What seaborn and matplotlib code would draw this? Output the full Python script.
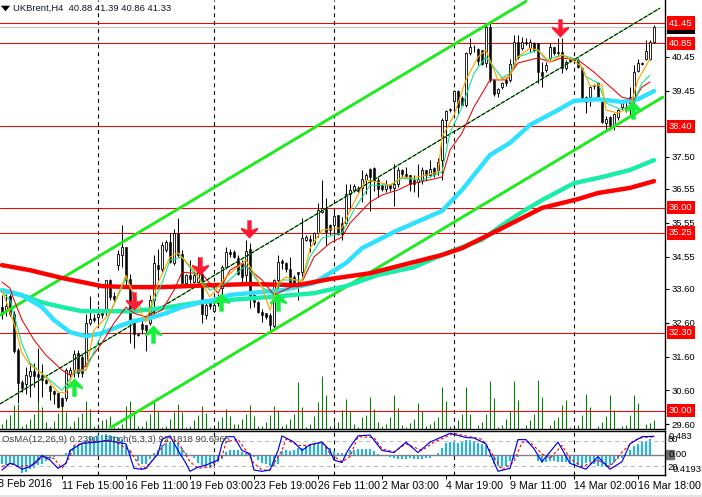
import numpy as np
import pandas as pd
import matplotlib
matplotlib.use("Agg")
import matplotlib.pyplot as plt
from matplotlib.path import Path
from matplotlib.patches import Rectangle
import seaborn as sns

# candles, one row per 10 bars
opens = [33.07, 32.95, 33.4, 32.85, 31.78, 30.85, 30.8, 31.03, 31.17, 31.08,
         31.05, 30.9, 30.72, 30.58, 30.53, 30.39, 30.39, 31.08, 31.2, 31.71,
         31.59, 31.33, 32.58, 32.74, 32.77, 32.89, 32.97, 33.86, 33.4, 34.3,
         34.6, 34.84, 33.9, 32.58, 32.28, 32.55, 32.53, 32.58, 33.27, 34.3,
         34.2, 34.74, 34.99, 34.35, 35.24, 34.64, 33.78, 34.0, 33.8, 33.8,
         34.05, 32.82, 33.2, 32.95, 33.17, 33.61, 34.25, 34.69, 34.69, 34.5,
         34.35, 34.0, 34.77, 33.41, 33.2, 32.92, 32.89, 32.84, 32.5, 33.85,
         34.43, 34.35, 34.2, 33.95, 34.1, 34.1, 35.05, 35.06, 34.94, 35.25,
         35.87, 35.97, 35.48, 35.48, 35.78, 35.55, 35.53, 36.41, 36.53, 36.59,
         36.59, 36.8, 37.15, 37.18, 36.8, 36.66, 36.56, 36.66, 36.59, 36.69,
         37.12, 37.0, 36.95, 36.8, 36.75, 36.8, 37.12, 36.95, 37.18, 37.1,
         37.4, 38.6, 38.9, 39.16, 39.45, 39.25, 39.03, 40.57, 40.75, 40.68,
         40.65, 40.26, 41.32, 39.77, 39.37, 39.55, 39.77, 39.77, 40.24, 40.9,
         40.7, 40.9, 40.7, 40.85, 40.85, 40.0, 40.06, 40.41, 40.75, 40.6,
         40.6, 40.11, 40.38, 40.38, 40.36, 40.11, 39.27, 39.27, 39.63, 39.67,
         39.13, 38.51, 38.68, 38.44, 38.68, 38.98, 38.96, 39.27, 39.18, 40.04,
         40.26, 40.38, 40.38, 40.88]
highs = [33.41, 33.45, 33.45, 32.95, 31.85, 30.9, 31.3, 31.4, 31.42, 31.84,
         31.39, 30.95, 30.75, 30.6, 30.53, 30.4, 31.25, 31.3, 31.79, 31.8,
         31.7, 32.87, 33.38, 32.87, 33.1, 33.0, 33.86, 33.88, 33.5, 34.74,
         35.48, 34.84, 34.05, 32.58, 32.3, 32.77, 32.53, 33.41, 34.6, 34.79,
         34.99, 35.04, 35.24, 35.38, 35.68, 34.74, 34.03, 34.45, 34.15, 34.55,
         34.1, 33.17, 33.3, 33.36, 33.45, 34.3, 34.84, 34.79, 34.74, 34.6,
         34.45, 35.04, 34.94, 33.45, 33.25, 33.0, 32.9, 32.9, 33.9, 34.6,
         34.47, 34.4, 34.55, 34.0, 34.1, 35.68, 35.2, 35.2, 35.28, 36.12,
         36.81, 36.27, 35.5, 35.97, 35.78, 35.72, 36.69, 36.69, 36.69, 36.65,
         37.12, 37.02, 37.18, 37.2, 36.9, 36.7, 36.8, 36.7, 37.3, 37.2,
         37.15, 37.2, 36.95, 36.95, 37.3, 37.2, 37.12, 37.4, 37.2, 37.45,
         38.64, 38.88, 38.95, 39.47, 39.47, 39.28, 40.6, 41.0, 40.8, 40.7,
         40.65, 41.44, 41.44, 39.8, 39.52, 39.72, 39.8, 40.4, 41.1, 41.1,
         41.05, 41.0, 40.97, 40.9, 40.85, 40.3, 40.3, 40.85, 40.75, 41.0,
         41.0, 40.35, 40.42, 40.42, 40.43, 40.16, 39.3, 39.6, 39.65, 39.7,
         39.15, 38.7, 38.7, 38.8, 38.9, 39.1, 39.13, 39.55, 40.21, 40.38,
         40.3, 40.95, 40.95, 41.39]
lows = [32.72, 32.8, 32.8, 31.7, 30.23, 30.55, 30.5, 30.4, 30.7, 30.3,
        30.4, 30.78, 30.31, 30.2, 30.08, 30.1, 30.3, 31.0, 31.0, 31.0,
        31.0, 31.3, 32.53, 32.62, 32.53, 32.75, 32.82, 33.26, 33.2, 34.15,
        34.25, 33.66, 32.0, 31.84, 32.2, 32.28, 31.77, 32.53, 32.87, 33.86,
        34.1, 34.69, 34.35, 34.3, 34.55, 33.76, 33.74, 33.76, 33.78, 33.76,
        32.6, 32.72, 33.0, 32.92, 33.1, 33.27, 34.2, 34.55, 34.5, 34.0,
        33.75, 33.75, 33.02, 33.07, 32.9, 32.62, 32.7, 32.38, 32.38, 33.56,
        34.2, 34.1, 33.66, 33.6, 33.26, 33.95, 35.0, 34.7, 34.9, 35.13,
        35.83, 34.89, 35.2, 35.08, 35.2, 35.04, 35.48, 35.92, 36.46, 36.45,
        36.16, 36.41, 35.9, 36.5, 36.3, 36.5, 36.46, 36.5, 36.04, 36.6,
        36.9, 36.9, 36.49, 36.46, 36.31, 36.7, 36.8, 36.9, 36.9, 36.95,
        36.8, 37.9, 38.82, 38.7, 38.75, 39.0, 38.98, 40.5, 40.6, 40.21,
        40.2, 40.16, 39.72, 39.3, 39.27, 39.5, 39.6, 39.7, 40.16, 40.4,
        40.65, 40.8, 40.6, 40.6, 39.67, 39.55, 40.0, 40.36, 40.5, 40.5,
        39.97, 40.05, 40.3, 40.3, 40.11, 39.2, 38.78, 39.0, 39.5, 39.2,
        38.5, 38.3, 38.3, 38.3, 38.6, 38.9, 38.83, 38.73, 39.1, 40.0,
        40.2, 40.35, 40.35, 40.86]
closes = [32.87, 33.1, 32.85, 31.75, 30.82, 30.68, 31.05, 31.17, 31.03, 31.0,
          30.9, 30.82, 30.58, 30.5, 30.11, 30.13, 31.2, 31.2, 31.67, 31.1,
          31.1, 32.58, 32.7, 32.67, 32.87, 32.82, 33.86, 33.36, 33.3, 34.64,
          34.84, 33.86, 32.58, 32.28, 32.23, 32.41, 32.38, 33.27, 34.35, 34.2,
          34.89, 34.99, 34.4, 35.24, 34.6, 33.78, 34.0, 33.9, 34.0, 34.25,
          32.87, 33.12, 33.1, 33.12, 33.36, 34.25, 34.69, 34.64, 34.55, 34.05,
          33.95, 34.72, 33.36, 33.2, 32.92, 32.82, 32.77, 32.53, 33.85, 34.4,
          34.37, 34.2, 33.76, 33.66, 34.05, 35.09, 35.12, 35.02, 35.25, 35.92,
          36.0, 35.28, 35.33, 35.75, 35.23, 35.23, 36.4, 36.53, 36.63, 36.49,
          36.85, 36.95, 36.9, 36.78, 36.56, 36.56, 36.69, 36.59, 36.69, 37.12,
          37.0, 36.92, 36.69, 36.69, 36.85, 37.12, 36.95, 37.15, 37.0, 37.35,
          38.58, 38.86, 38.88, 39.45, 38.98, 39.03, 40.57, 40.75, 40.73, 40.34,
          40.24, 41.32, 39.77, 39.35, 39.49, 39.69, 39.67, 40.24, 40.9, 40.45,
          40.9, 40.87, 40.9, 40.65, 40.01, 39.9, 40.21, 40.75, 40.55, 40.55,
          40.11, 40.3, 40.34, 40.36, 40.16, 39.22, 39.12, 39.55, 39.6, 39.27,
          38.54, 38.63, 38.44, 38.76, 38.88, 39.08, 38.94, 39.08, 40.01, 40.26,
          40.24, 40.63, 40.9, 41.33]

volumes = [15, 30, 42, 72, 75, 8, 15, 30, 45, 90, 65, 20, 5, 25, 48, 90, 50, 10, 25, 35,
           48, 85, 60, 8, 15, 28, 30, 40, 5, 5, 15, 70, 85, 50, 10, 8, 25, 45, 80, 55,
           5, 8, 30, 50, 75, 50, 5, 10, 28, 42, 68, 48, 5, 5, 25, 35, 60, 38, 15, 15,
           30, 45, 72, 38, 10, 10, 22, 42, 68, 57, 8, 15, 30, 45, 142, 65, 5, 15, 40, 82,
           160, 102, 10, 25, 20, 58, 90, 55, 15, 5, 35, 42, 97, 60, 20, 8, 15, 35, 102, 62,
           12, 5, 18, 30, 78, 55, 10, 15, 25, 35, 127, 85, 10, 8, 28, 45, 125, 45, 0, 12,
           20, 45, 145, 92, 6, 12, 30, 55, 145, 88, 3, 12, 28, 45, 148, 95, 0, 12, 27, 35,
           72, 87, 6, 3, 12, 42, 105, 66, 0, 8, 20, 38, 102, 57, 3, 8, 12, 42, 102, 78,
           0, 15, 18, 28]

osma = [-.20, -.21, -.19, -.19, -.23, -.37, -.35, -.30, -.28, -.21, -.19, -.13, -.10, -.05, -.03, -.02,
        .03, .10, .17, .20, .23, .30, .37, .37, .41, .41, .43, .40, .39, .35, .32, .20, .10,
        -.03, -.13, -.19, -.20, -.10, .03, .10, .19, .23, .25, .28, .23, .13, .03,
        -.03, -.08, -.17, -.21, -.23, -.27, -.20, -.15, -.10, .05, .10, .10, .09, .05, .03, .01,
        -.05, -.12, -.17, -.20, -.23, -.23, -.19, .07, .10, .08, .10, .13, .13, .17, .19, .21, .23, .23,
        .17, .13, .07, .03, .03, .01, .10, .10, .11, .11, .12, .11, .08, .02,
        -.01, -.03, -.05, -.08, -.09, -.09, -.09, -.08, -.09, -.09, -.09, -.08, -.07, -.03,
        .03, .13, .23, .25, .25, .23, .28, .30, .30, .27, .23, .21, .20,
        -.05, -.20, -.23, -.28, -.23, -.13, -.10, -.05, -.03, -.02, -.02, -.02,
        -.13, -.17, -.15, -.13, -.13, -.15, -.15, -.15, -.17, -.19, -.21, -.23, -.17, -.15,
        -.20, -.23, -.23, -.25, -.21, -.17, -.10, -.07, 0.0, .10, .17, .21, .25, .28, .32]

stoch_bars = [0, 2, 3, 5, 7, 9, 10, 12, 14, 16, 17, 20, 24, 26, 31, 33, 35, 36, 39, 40, 42, 44, 46, 47,
              49, 51, 54, 55, 56, 58, 60, 62, 63, 65, 67, 69, 70, 73, 75, 77, 80, 82, 83, 85, 86,
              87, 89, 92, 95, 98, 101, 104, 107, 112, 116, 118, 121, 124, 127, 129, 131, 133, 135,
              139, 142, 146, 149, 152, 155, 157, 160, 163]
stoch_main = [11, 27, 25, 13, 19, 36, 46, 35, 15, 27, 58, 75, 78, 82, 74, 15, 13, 15, 50, 85, 93, 58, 27, 8,
              18, 23, 35, 74, 91, 91, 58, 50, 11, 8, 11, 58, 93, 78, 58, 72, 78, 58, 35, 29, 50,
              66, 93, 95, 58, 53, 78, 53, 78, 99, 89, 88, 74, 8, 15, 84, 84, 62, 31,
              78, 27, 13, 43, 13, 31, 74, 91, 92]
signal_bars = [0, 2, 4, 8, 10, 13, 15, 17, 18, 22, 28, 32, 34, 35, 37, 40, 42, 44, 47, 49, 52, 55, 56, 59,
               61, 63, 65, 67, 70, 71, 74, 77, 80, 82, 85, 87, 89, 93, 95, 98, 101, 105, 108, 113,
               117, 120, 122, 125, 128, 130, 132, 135, 137, 140, 142, 145, 149, 152, 155, 158, 160, 163]
stoch_signal = [19, 27, 19, 23, 43, 39, 15, 43, 70, 80, 80, 58, 27, 11, 27, 66, 89, 78, 31, 15, 19, 43, 78, 85,
                58, 27, 11, 11, 58, 85, 70, 70, 78, 50, 31, 43, 91, 89, 62, 54, 74, 58, 78, 99,
                91, 85, 58, 11, 31, 78, 78, 50, 39, 70, 39, 19, 35, 19, 54, 82, 89, 90.7]

# moving averages, read at the bends only
fast_bars = [0, 3, 5, 7, 10, 14, 16, 18, 21, 23, 27, 31, 34, 36, 39, 42, 44, 48, 52, 56, 61, 65, 67, 69, 71, 75,
             77, 80, 85, 88, 91, 94, 97, 100, 103, 109, 110, 113, 116, 119, 121, 124, 127, 129, 132, 134,
             137, 140, 143, 145, 147, 150, 151, 154, 157, 159, 162]
fast_ma = [33.56, 32.59, 31.7, 31.35, 31.11, 30.55, 30.52, 31.2, 31.2, 32.38, 32.88, 34.0, 33.06, 32.62, 33.77,
           34.54, 34.66, 34.15, 33.36, 33.95, 34.45, 33.65, 32.97, 33.77, 33.95, 33.8,
           34.8, 35.34, 35.4, 36.16, 36.81, 36.75, 36.66, 36.9, 36.87, 37.05, 38.08, 38.73, 39.77, 40.45, 40.65,
           39.77, 39.88, 40.45, 40.71, 40.65, 40.3, 40.51, 40.33, 40.15, 39.59, 39.62, 38.88, 38.79, 38.97, 39.77,
           40.39]
mid_bars = [0, 2, 5, 7, 12, 15, 18, 21, 25, 27, 30, 31, 35, 37, 40, 42, 45, 48, 52, 56, 61, 65, 68, 70, 75, 77,
            80, 85, 88, 92, 97, 100, 105, 110, 112, 115, 118, 121, 125, 127, 129, 134, 136, 140, 144, 146,
            149, 151, 155, 158, 160, 162]
mid_ma = [33.5, 33.27, 31.97, 31.41, 30.9, 30.6, 31.11, 31.2, 32.29, 32.88, 33.65, 33.92, 32.97, 32.97, 33.77,
          34.45, 34.54, 34.07, 33.56, 33.77, 34.3, 33.65, 33.42, 33.86, 33.86, 34.54,
          35.1, 35.25, 35.93, 36.66, 36.66, 36.87, 36.81, 37.05, 38.2, 38.97, 39.97, 40.45, 39.83, 39.97, 40.45,
          40.65, 40.36, 40.51, 40.36, 39.86, 39.68, 39.09, 38.88, 39.12, 39.68, 39.91]
slow_bars = [0, 2, 3, 5, 8, 11, 15, 17, 20, 25, 28, 31, 33, 36, 40, 43, 45, 50, 54, 57, 60, 65, 68, 75, 78, 82,
             85, 87, 92, 95, 99, 102, 110, 112, 115, 118, 122, 126, 129, 134, 137, 140, 144, 148, 151, 155,
             158, 160, 162]
slow_ma = [33.8, 33.62, 33.27, 32.68, 32.09, 31.64, 31.2, 31.05, 31.2, 32.0, 32.59, 33.06, 32.88, 32.77, 32.97,
           33.56, 34.09, 34.04, 33.47, 34.15, 34.36, 33.86, 33.42, 33.8, 34.54, 34.95,
           35.13, 35.54, 36.16, 36.37, 36.52, 36.69, 36.9, 37.7, 38.2, 38.97, 39.77, 39.77, 40.27, 40.42, 40.3,
           40.42, 40.36, 40.0, 39.68, 39.26, 39.18, 39.56, 39.71]
cyan_bars = [0, 5, 10, 13, 17, 21, 25, 30, 33, 37, 41, 45, 50, 53, 57, 70, 78, 86, 90, 98, 110, 115, 122, 127,
             132, 139, 143, 149, 155, 159, 163]
cyan_ma = [33.56, 33.41, 33.06, 32.68, 32.32, 32.2, 32.29, 32.53, 32.65, 32.74, 32.88, 33.06, 33.21, 33.27, 33.42,
           33.56, 33.77, 34.36, 34.8, 35.28, 35.9, 36.52, 37.55, 37.91, 38.44, 38.88, 39.15, 39.2, 39.12, 39.2,
           39.44]
teal_bars = [0, 5, 10, 15, 20, 33, 40, 50, 60, 67, 78, 86, 94, 103, 110, 115, 120, 125, 130, 135, 143, 150, 157, 163]
teal_ma = [33.56, 33.41, 33.2, 33.06, 32.94, 32.94, 33.03, 33.21, 33.3, 33.36, 33.47, 33.68, 34.01, 34.24, 34.6,
           34.83, 35.05, 35.48, 35.87, 36.22, 36.72, 36.9, 37.11, 37.4]
red_bars = [0, 7, 15, 25, 32, 40, 53, 62, 74, 82, 92, 103, 110, 115, 125, 135, 144, 149, 157, 163]
red_ma = [34.3, 34.15, 33.92, 33.68, 33.65, 33.65, 33.71, 33.74, 33.71, 33.89, 34.06, 34.39, 34.6, 34.8, 35.39,
          35.99, 36.25, 36.43, 36.58, 36.78]

# trend channel, end points of each line
upper_bars = [-0.5, 131]
upper_prices = [32.82, 42.09]
lower_bars = [27, 165.2]
lower_prices = [29.49, 39.26]
middle_bars = [-0.5, 164.5]
middle_prices = [30.2, 41.89]

level_prices = [41.45, 40.85, 38.40, 36.00, 35.25, 32.30, 30.00]
last_price = 41.33
price_ticks = [40.45, 39.45, 37.50, 36.55, 35.55, 34.55, 33.60, 32.60, 31.60, 30.60, 29.60]

sell_bars = [33, 49.5, 61.75, 139.5]
sell_prices = [33.24, 34.27, 35.37, 41.3]
buy_bars = [18, 37.75, 54.75, 69, 157.75]
buy_prices = [30.7, 32.26, 33.21, 33.21, 38.88]

separator_bars = [24, 53, 83, 113, 143]
time_bars = [15, 31, 47, 63, 79, 95, 111, 127, 143, 159]
time_labels = ["11 Feb 15:00", "16 Feb 11:00", "19 Feb 03:00", "23 Feb 19:00", "26 Feb 11:00",
               "2 Mar 03:00", "4 Mar 19:00", "9 Mar 11:00", "14 Mar 02:00", "16 Mar 18:00"]

sns.set_style("white")
plt.rcParams["font.family"] = ["Liberation Sans", "DejaVu Sans"]
plt.rcParams["font.size"] = 7.7
small_font = 6.8

W, H = 702, 497
fig = plt.figure(figsize=(W / 100, H / 100), dpi=100, facecolor="white")
ax = fig.add_axes([0, 1 - 429 / H, 665 / W, 429 / H])
ax_sub = fig.add_axes([0, 1 - 475 / H, 665 / W, 44 / H])
x_range = (-0.5, 165.75)

candles = pd.DataFrame({"open": opens, "high": highs, "low": lows, "close": closes})
candles["bar"] = candles.index
up = candles[candles["close"] >= candles["open"]]
down = candles[candles["close"] < candles["open"]]

ax.set_xlim(x_range)
ax.set_ylim(29.46, 42.13)
ax.vlines(separator_bars, 29.46, 42.13, color="black", linewidth=0.8, linestyles=(0, (3.5, 3.5)), zorder=1)

# volume sits on its own hidden scale
ax_vol = ax.twinx()
ax_vol.set_ylim(0, 1287)
ax_vol.axis("off")
ax_vol.vlines(candles["bar"], 0, volumes, color="#008000", linewidth=0.75)
ax_vol.set_zorder(1)
ax.set_zorder(2)
ax.patch.set_visible(False)

for level in level_prices:
    ax.axhline(level, color="#ff0000", linewidth=0.75, zorder=2)
ax.axhline(last_price, color="#c0c0c0", linewidth=0.75, zorder=1.5)

ax.vlines(candles["bar"], candles["low"], candles["high"], color="black", linewidth=0.72, zorder=3)
ax.bar(down["bar"], down["open"] - down["close"], bottom=down["close"], width=0.6,
       color="black", edgecolor="black", linewidth=0.4, zorder=4)
ax.bar(up["bar"], up["close"] - up["open"], bottom=up["open"], width=0.6,
       color="white", edgecolor="black", linewidth=0.6, zorder=4)

sns.lineplot(x=upper_bars, y=upper_prices, color="#1eeb1e", linewidth=2.1, ax=ax, zorder=5)
sns.lineplot(x=lower_bars, y=lower_prices, color="#1eeb1e", linewidth=2.1, ax=ax, zorder=5)
sns.lineplot(x=middle_bars, y=middle_prices, color="#1eeb1e", linewidth=0.75, ax=ax, zorder=5)
ax.plot(middle_bars, middle_prices, color="black", linewidth=0.75, linestyle=(0, (4, 1.5)), zorder=5.1)

sns.lineplot(x=teal_bars, y=teal_ma, color="#19eda8", linewidth=3.2, ax=ax, zorder=6)
sns.lineplot(x=cyan_bars, y=cyan_ma, color="#30e0ff", linewidth=3.2, ax=ax, zorder=6.1)
sns.lineplot(x=red_bars, y=red_ma, color="#ff0000", linewidth=3.2, ax=ax, zorder=6.2)
sns.lineplot(x=slow_bars, y=slow_ma, color="#ee0000", linewidth=0.75, ax=ax, zorder=7)
sns.lineplot(x=mid_bars, y=mid_ma, color="#00e68a", linewidth=0.75, ax=ax, zorder=7.1)
sns.lineplot(x=fast_bars, y=fast_ma, color="#ffa500", linewidth=0.85, ax=ax, zorder=7.2)

# wingdings style arrows
down_arrow = Path([(-.12, .5), (.12, .5), (.12, -.02), (.46, .1), (.46, -.02), (0, -.5),
                   (-.46, -.02), (-.46, .1), (-.12, -.02), (-.12, .5)], closed=True)
up_arrow = Path(down_arrow.vertices * [1, -1], closed=True)
ax.scatter(sell_bars, sell_prices, marker=down_arrow, s=175, color="#ff1a33", linewidths=0, zorder=8)
ax.scatter(buy_bars, buy_prices, marker=up_arrow, s=175, color="#16f03c", linewidths=0, zorder=8)

ax.set_xticks(time_bars)
ax.set_xticklabels([])
ax.tick_params(axis="x", length=0)
ax.yaxis.tick_right()
ax.set_yticks(price_ticks)
ax.set_yticklabels([f"{p:.2f}" for p in price_ticks], color="black", fontsize=small_font)
ax.tick_params(axis="y", length=3, width=0.8, color="black", pad=2, left=False, right=True)
for side, visible in zip(["left", "top", "right", "bottom"], [False, False, True, True]):
    ax.spines[side].set_visible(visible)
    ax.spines[side].set_color("black")
    ax.spines[side].set_linewidth(1.0)

y_trans = ax.get_yaxis_transform()
ax.text(1.006, last_price, f"{last_price:.2f}", transform=y_trans, color="white", va="center", ha="left",
        fontsize=small_font, clip_on=False, bbox=dict(boxstyle="square,pad=0.22", fc="black", ec="none"), zorder=9)
for level in level_prices:
    ax.text(1.006, level, f"{level:.2f}", transform=y_trans, color="white", va="center", ha="left",
            fontsize=small_font, clip_on=False, bbox=dict(boxstyle="square,pad=0.22", fc="#ff0000", ec="none"),
            zorder=10)

fig.text(13 / W, 1 - 8 / H, "UKBrent,H4  40.88 41.39 40.86 41.33", color="#101828", va="center", ha="left",
         fontsize=small_font)
head = Path([(-.5, .3), (.5, .3), (0, -.3), (-.5, .3)], closed=True)
ax.scatter([0.75], [41.9], marker=head, s=45, color="black", linewidths=0, zorder=9, clip_on=False)

# OsMA + stochastic window
ax_sub.set_xlim(x_range)
ax_sub.set_ylim(-0.4193, 0.483)
ax_sub.bar(np.arange(len(osma)), osma, width=0.74, color="#17b8f5", linewidth=0, antialiased=False, zorder=2)
ax_sub.axhline(0, color="#808080", linewidth=1.0, zorder=3)
ax_sub.vlines(separator_bars, -0.4193, 0.483, color="black", linewidth=0.8, linestyles=(0, (3.5, 3.5)), zorder=1)
ax_stoch = ax_sub.twinx()
ax_stoch.set_ylim(-0.9, 104.7)
ax_stoch.axis("off")
ax_stoch.axhline(80, color="#c0c0c0", linewidth=0.8, linestyle=(0, (4, 3)))
ax_stoch.axhline(20, color="#c0c0c0", linewidth=0.8, linestyle=(0, (4, 3)))
sns.lineplot(x=signal_bars, y=stoch_signal, color="#ff0000", linewidth=0.8, linestyle=(0, (2.5, 2)), ax=ax_stoch)
sns.lineplot(x=stoch_bars, y=stoch_main, color="#0000ee", linewidth=0.85, ax=ax_stoch)
ax_stoch.set_xlim(x_range)

ax_sub.set_xticks(time_bars)
ax_sub.set_xticklabels(time_labels, ha="left", color="black")
ax_sub.tick_params(axis="x", length=3, width=0.8, color="black", pad=1.5, bottom=True)
ax_sub.set_yticks([])
ax_sub.spines["left"].set_visible(False)
for side in ["top", "right", "bottom"]:
    ax_sub.spines[side].set_color("black")
    ax_sub.spines[side].set_linewidth(1.0)
fig.text(-2 / W, 1 - 484 / H, "8 Feb 2016", color="black", va="center", ha="left")

sub_y = ax_sub.get_yaxis_transform()
fig.text(2 / W, 1 - 440 / H, "OsMA(12,26,9) 0.2391  Stoch(5,3,3) 92.1818 90.6965",
         color="#404040", va="center", ha="left", fontsize=small_font, zorder=6)
ax_sub.add_patch(Rectangle((1.002, -0.1), 0.011, 0.2, transform=sub_y, color="#707070", clip_on=False))
ax_sub.text(1.006, 0, "0.00", transform=sub_y, color="black", va="center", ha="left", clip_on=False,
            fontsize=small_font)
ax_sub.text(1.006, 0.37, "0.483", transform=sub_y, color="black", va="center", ha="left", clip_on=False,
            fontsize=small_font)
ax_sub.text(1.004, 0.30, "80", transform=sub_y, color="black", va="center", ha="left", clip_on=False,
            fontsize=small_font)
ax_sub.text(1.004, -0.26, "20", transform=sub_y, color="black", va="center", ha="left", clip_on=False,
            fontsize=small_font)
ax_sub.text(1.011, -0.30, "0.4193", transform=sub_y, color="black", va="center", ha="left", clip_on=False,
            fontsize=small_font)

# bottom edge of the terminal window
fig.add_artist(Rectangle((0, 0), 1, 2.5 / H, transform=fig.transFigure, color="#e4e4e4", linewidth=0))

fig.savefig("out.png", dpi=100, facecolor="white")
